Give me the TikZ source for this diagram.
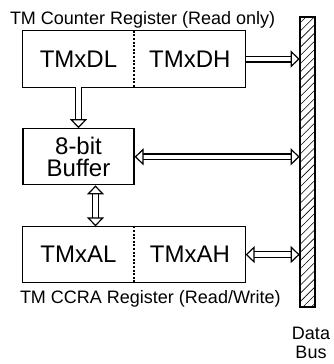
\documentclass[tikz,border=0pt]{standalone}
\usepackage{fontspec}
\setmainfont{Liberation Sans}
\usetikzlibrary{arrows.meta, positioning, patterns.meta}
\tikzset{
  every node/.style={font=\fontsize{24}{22}\selectfont},
  half/.style={minimum width=111pt, minimum height=56pt, inner sep=0pt},
  regbox/.style={draw, line width=1.2pt},
  divider/.style={line width=1.8pt, dash pattern=on 2pt off 1.6pt},
  caption/.style={font=\fontsize{18}{20}\selectfont, inner sep=0pt},
  bus/.style={
    draw, line width=1.2pt, minimum width=15pt, minimum height=290pt,
    inner sep=0pt, pattern={Lines[angle=45, distance=5.8pt, line width=0.6pt]}
  },
  hollow/.tip={Triangle[fill=white, line width=1.2pt, length=9pt, width=17pt]},
  fat/.style={double, double distance=4.4pt, line width=1.3pt, -hollow},
  fatboth/.style={fat, hollow-hollow},
}
\begin{document}
\begin{tikzpicture}[x=1pt, y=1pt]
  \useasboundingbox (0,0) rectangle (334,-364);

  % Counter register
  \node[half] (dl) at (78.5,-59) {TMxDL};
  \node[half, right=0pt of dl] (dh) {TMxDH};
  \draw[regbox] (dl.north west) rectangle (dh.south east);
  \draw[divider] (dl.north east) -- (dl.south east);
  \node[caption, anchor=base west] (cnttitle)
    at ([xshift=-13pt, yshift=6.5pt]dl.north west) {TM Counter Register (Read only)};

  % Buffer
  \node[half, regbox, align=center, below=41pt of dl] (buf) {8-bit\\Buffer};

  % CCRA register
  \node[half, below=41pt of buf] (al) {TMxAL};
  \node[half, right=0pt of al] (ah) {TMxAH};
  \draw[regbox] (al.north west) rectangle (ah.south east);
  \draw[divider] (al.north east) -- (al.south east);
  \node[caption, anchor=base west] (ccratitle)
    at ([xshift=-3pt, yshift=-20.7pt]al.south west) {TM CCRA Register (Read/Write)};

  % Data bus
  \node[bus] (bus) at (307.5,-162) {};
  \node[font=\fontsize{18}{19}\selectfont, align=center, inner sep=0pt,
    below=20pt of bus.south, xshift=3.5pt] (bustitle) {Data\\Bus};

  % Transfers
  \draw[fat] (dh.east) -- (dh.east -| bus.west);
  \draw[fat] (dl.south) -- (buf.north);
  \draw[fatboth] (buf.east) -- (buf.east -| bus.west);
  \draw[fatboth] ([xshift=17pt]buf.south) -- ([xshift=17pt]buf.south |- al.north);
  \draw[fatboth] (ah.east) -- (ah.east -| bus.west);
\end{tikzpicture}
\end{document}
